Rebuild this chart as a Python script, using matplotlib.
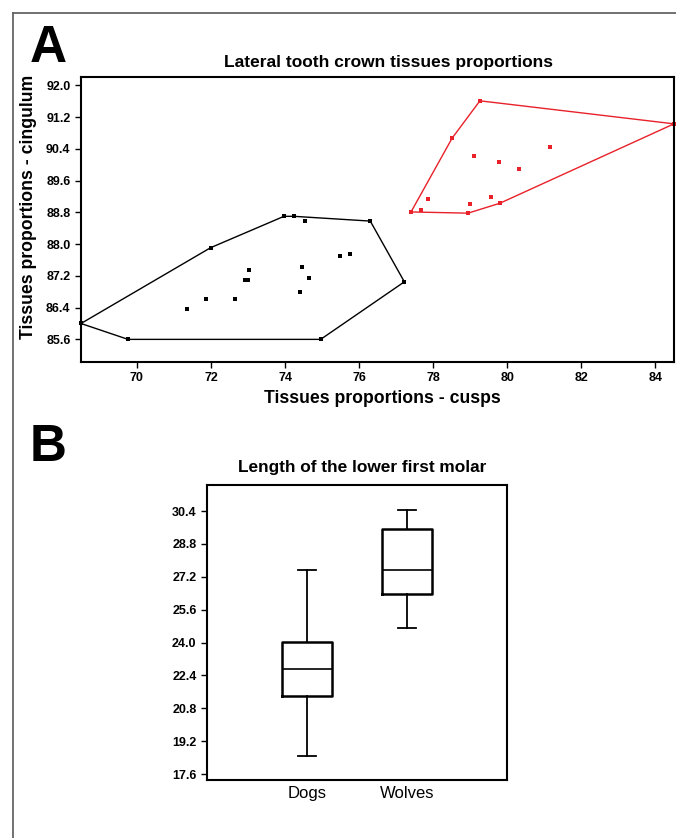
import numpy as np
import matplotlib
matplotlib.use('Agg')
import matplotlib.pyplot as plt
from matplotlib.lines import Line2D

plt.rcParams['font.family'] = ['Liberation Sans', 'DejaVu Sans']

# panel A: dogs (black) and wolves (red), cusps vs cingulum
dogs_x = [68.49, 69.76, 71.99, 73.97, 74.24, 74.53, 76.30, 77.22, 74.96,
          71.34, 71.86, 72.64, 72.91, 72.99, 73.03, 74.41, 74.46, 74.65, 75.49, 75.75]
dogs_y = [86.00, 85.60, 87.91, 88.70, 88.70, 88.58, 88.58, 87.05, 85.60,
          86.37, 86.62, 86.62, 87.09, 87.10, 87.36, 86.79, 87.42, 87.14, 87.70, 87.76]
dogs_hull = [0, 2, 3, 4, 6, 7, 8, 1, 0]

wolves_x = [77.40, 77.66, 77.86, 78.51, 79.26, 84.50, 79.80, 78.94,
            78.99, 79.56, 79.10, 79.77, 80.31, 81.16]
wolves_y = [88.81, 88.85, 89.13, 90.67, 91.61, 91.03, 89.03, 88.78,
            89.00, 89.19, 90.21, 90.06, 89.88, 90.45]
wolves_hull = [0, 3, 4, 5, 6, 7, 0]

xticks_a = [70, 72, 74, 76, 78, 80, 82, 84]
yticks_a = [85.6, 86.4, 87.2, 88.0, 88.8, 89.6, 90.4, 91.2, 92.0]

# panel B: length of lower first molar
groups = ['Dogs', 'Wolves']
whislo = [18.49, 24.72]
q1 = [21.40, 26.36]
med = [22.71, 27.54]
q3 = [24.04, 29.52]
whishi = [27.53, 30.46]
yticks_b = [17.6, 19.2, 20.8, 22.4, 24.0, 25.6, 27.2, 28.8, 30.4]

red = '#e8212a'
W, H = 676, 838

fig = plt.figure(figsize=(6.76, 8.38), dpi=100)

# outer frame (only left and top visible)
fig.add_artist(Line2D([13/W, 13/W], [0, 1 - 13/H], color='#666666', lw=1.3))
fig.add_artist(Line2D([13/W, 1], [1 - 13/H, 1 - 13/H], color='#666666', lw=1.3))

fig.text(30/W, 1 - 62/H, 'A', fontsize=37, fontweight='bold', va='baseline', ha='left')
fig.text(30/W, 1 - 461/H, 'B', fontsize=37, fontweight='bold', va='baseline', ha='left')

# ---- A ----
ax = fig.add_axes([81/W, 1 - 362/H, 593/W, 285/H])
for xs, ys, hull, c in [(dogs_x, dogs_y, dogs_hull, 'black'),
                        (wolves_x, wolves_y, wolves_hull, red)]:
    xs = np.array(xs); ys = np.array(ys)
    ax.plot(xs[hull], ys[hull], color=c, lw=1.0, clip_on=False)
    ax.plot(xs, ys, 's', color=c, ms=2.5, mew=0, clip_on=False)

ax.set_xlim(68.49, 84.50)
ax.set_ylim(85.03, 92.21)
ax.set_xticks(xticks_a)
ax.set_yticks(yticks_a)
ax.set_yticklabels(['%.1f' % v for v in yticks_a])
ax.tick_params(labelsize=9, length=4, width=1.0, direction='out')
for lab in ax.get_xticklabels() + ax.get_yticklabels():
    lab.set_fontweight('bold')
for s in ax.spines.values():
    s.set_linewidth(1.5)
fig.text(382/W, 1 - 398/H, 'Tissues proportions - cusps',
         fontsize=12.7, fontweight='bold', ha='center', va='center')
fig.text(29/W, 1 - 207/H, 'Tissues proportions - cingulum', rotation=90,
         fontsize=12.7, fontweight='bold', ha='center', va='center')
fig.text(389/W, 1 - 62/H, 'Lateral tooth crown tissues proportions',
         fontsize=12.5, fontweight='bold', ha='center', va='center')

# ---- B ----
bx = fig.add_axes([207/W, 1 - 780/H, 300/W, 295/H])
stats = []
for i, g in enumerate(groups):
    stats.append(dict(label=g, whislo=whislo[i], q1=q1[i], med=med[i],
                      q3=q3[i], whishi=whishi[i], fliers=[]))
bx.bxp(stats, positions=[1, 2], widths=0.5, capwidths=0.18, showfliers=False,
       boxprops=dict(color='black', lw=1.8),
       medianprops=dict(color='black', lw=1.2),
       whiskerprops=dict(color='black', lw=1.3),
       capprops=dict(color='black', lw=1.3))
bx.set_xlim(0, 3)
bx.set_ylim(17.31, 31.67)
bx.set_yticks(yticks_b)
bx.set_yticklabels(['%.1f' % v for v in yticks_b])
bx.tick_params(axis='y', labelsize=9, length=4, width=1.0)
bx.tick_params(axis='x', labelsize=12, length=0, pad=4)
for lab in bx.get_yticklabels():
    lab.set_fontweight('bold')
for s in bx.spines.values():
    s.set_linewidth(1.5)
fig.text(362/W, 1 - 467/H, 'Length of the lower first molar',
         fontsize=12.4, fontweight='bold', ha='center', va='center')

fig.savefig('out.png', dpi=100)
